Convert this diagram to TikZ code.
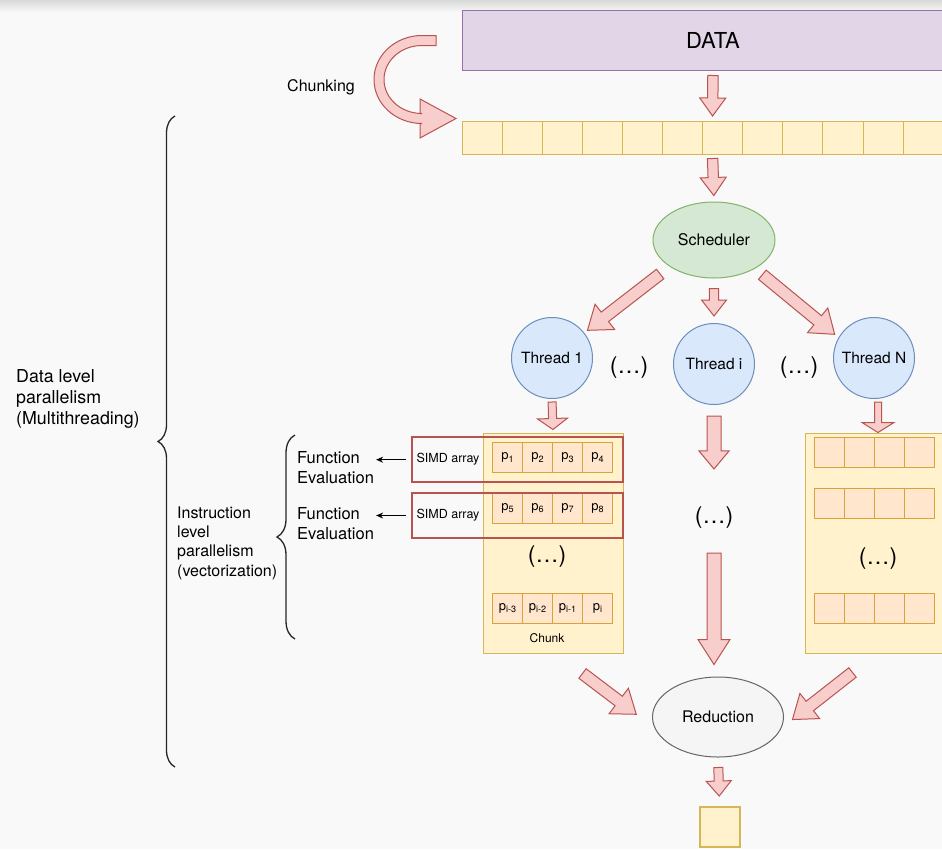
\documentclass[tikz,border=0pt]{standalone}
\usepackage{fontspec}
\setmainfont{TeX Gyre Heros}
\usepackage{tikz}
\usetikzlibrary{arrows.meta,calc,shapes.geometric,decorations.pathreplacing}

\definecolor{bgcol}{HTML}{F9F9F9}
\definecolor{purplefill}{HTML}{E1D5E7}
\definecolor{purpleline}{HTML}{9673A6}
\definecolor{yellowfill}{HTML}{FFF2CC}
\definecolor{yellowline}{HTML}{D6B656}
\definecolor{cellfill}{HTML}{FFE6CC}
\definecolor{cellline}{HTML}{D9A33B}
\definecolor{redfill}{HTML}{F8CECC}
\definecolor{redline}{HTML}{B85450}
\definecolor{greenfill}{HTML}{D5E8D4}
\definecolor{greenline}{HTML}{82B366}
\definecolor{bluefill}{HTML}{DAE8FC}
\definecolor{blueline}{HTML}{6C8EBF}
\definecolor{greyfill}{HTML}{F5F5F5}
\definecolor{greyline}{HTML}{666666}

\begin{document}
\begin{tikzpicture}[
    x=1pt, y=-1pt,
    txt/.style={font=\fontsize{16.5}{19.6}\selectfont, inner sep=0pt, align=left},
    etc/.style={font=\fontsize{23}{23}\selectfont, inner sep=0pt},
    box/.style={draw=yellowline, fill=yellowfill, line width=1pt, inner sep=0pt},
    pcell/.style={draw=cellline, fill=cellfill, line width=1pt, minimum width=30pt,
        minimum height=30pt, inner sep=0pt, font=\fontsize{13}{13}\selectfont},
    thread/.style={circle, draw=blueline, fill=bluefill, line width=1pt, minimum size=81pt,
        inner sep=0pt, font=\fontsize{15.5}{15.5}\selectfont},
    simd/.style={draw=redline, line width=2pt, minimum width=211pt, minimum height=45pt, inner sep=0pt},
    pointer/.style={-{Stealth[length=7pt,width=6pt]}, line width=1pt, shorten <=5pt, shorten >=2pt},
    curly/.style={decorate, decoration={brace, amplitude=#1}, line width=1.3pt, draw=black!85},
    fat size/.code n args={5}{\def\fags{#1}\def\fage{#2}\def\fasw{#3}\def\fahw{#4}\def\fahl{#5}},
    fat size={4pt}{4pt}{5pt}{13pt}{18pt},
    fat/.style={draw=redline, fill=redfill, line width=1pt, line join=miter,
        to path={
            ($(\tikztostart)!\fags!(\tikztotarget)$) coordinate (fa-s)
            ($(\tikztotarget)!\fage!(\tikztostart)$) coordinate (fa-t)
            ($(fa-t)!\fahl!(fa-s)$) coordinate (fa-c)
            ($(fa-s)!\fasw!90:(fa-t)$) -- ($(fa-c)!\fasw!90:(fa-t)$)
            -- ($(fa-c)!\fahw!90:(fa-t)$) -- (fa-t)
            -- ($(fa-c)!\fahw!-90:(fa-t)$) -- ($(fa-c)!\fasw!-90:(fa-t)$)
            -- ($(fa-s)!\fasw!-90:(fa-t)$) -- cycle}},
]
\useasboundingbox (0,0) rectangle (942,849);
\clip (0,0) rectangle (942,849);
\fill[bgcol] (0,0) rectangle (942,849);
\shade[top color=black!15, bottom color=bgcol] (0,0) rectangle (942,12);

% Data and chunked row
\node[draw=purpleline, fill=purplefill, line width=1pt, minimum width=502pt, minimum height=60pt,
    font=\fontsize{22}{22}\selectfont] (data) at (713,40.5) {DATA};
\node[box, minimum width=501pt, minimum height=33pt] (row) at (712.5,137.5) {};
\foreach \i in {1,...,12} {
    \draw[yellowline, line width=1pt] (462+40.1*\i,121) -- (462+40.1*\i,154);
}
\node[font=\fontsize{16}{16}\selectfont] (chunking) at (321,87) {Chunking};
\draw[draw=redline, fill=redfill, line width=1pt, line join=miter]
    (436,35.5) -- (422,35.5) arc[start angle=270, end angle=90, x radius=48, y radius=44]
    -- (420,123.5) -- (420,138) -- (456,118.5) -- (420,99) -- (420,113.5) -- (422,113.5)
    arc[start angle=90, end angle=270, x radius=38, y radius=34] -- (436,45.5) -- cycle;

% Scheduler and threads
\node[ellipse, draw=greenline, fill=greenfill, line width=1pt, minimum width=122pt, minimum height=76pt,
    inner sep=0pt, font=\fontsize{16}{16}\selectfont] (sched) at (714,240) {Scheduler};
\node[thread] (t1) at (552,358) {Thread 1};
\node[thread] (ti) at (714,364) {Thread i};
\node[thread] (tN) at (874,358) {Thread N};
\node[etc] (etc1) at (629,368) {(\dots)};
\node[etc] (etc2) at (799,368) {(\dots)};

% Chunk of thread 1
\node[box, minimum width=140pt, minimum height=220pt] (chunk) at (553,543) {};
\foreach \t [count=\i from 0] in {1,2,3,4} {
    \node[pcell] (pa-\i) at (507.7+30*\i,457.7) {p\textsubscript{\t}};
}
\foreach \t [count=\i from 0] in {5,6,7,8} {
    \node[pcell] (pb-\i) at (507.7+30*\i,508) {p\textsubscript{\t}};
}
\foreach \t [count=\i from 0] in {i-3,i-2,i-1,i} {
    \node[pcell] (pc-\i) at (507.7+30*\i,608.3) {p\textsubscript{\t}};
}
\node[etc] (etc3) at (547,557) {(\dots)};
\node[font=\fontsize{12}{12}\selectfont] (chunk-lbl) at (547,638) {Chunk};
\node[simd] (simd1) at (517.5,459.7) {};
\node[simd] (simd2) at (517.5,515.5) {};
\node[font=\fontsize{12.5}{12.5}\selectfont] (simd1-lbl) at (448,459.5) {SIMD array};
\node[font=\fontsize{12.5}{12.5}\selectfont] (simd2-lbl) at (448,515) {SIMD array};

% Chunk of thread N
\node[box, minimum width=140pt, minimum height=220pt] (rbox) at (875,543) {};
\foreach \y in {452,503,608} {
    \foreach \i in {0,...,3} {
        \node[pcell] at (829+30*\i,\y) {};
    }
}
\node[etc] (etc4) at (878,559) {(\dots)};

% Middle thread
\node[etc] (etc5) at (714,518) {(\dots)};

% Reduction and result
\node[ellipse, draw=greyline, fill=greyfill, line width=1pt, minimum width=131pt, minimum height=80pt,
    inner sep=0pt, font=\fontsize{16}{16}\selectfont] (reduc) at (718,717) {Reduction};
\node[draw=yellowline, fill=yellowfill, line width=2pt, minimum size=40pt, inner sep=0pt] (res) at (719.5,827) {};

% Block arrows
\draw[fat, fat size={4.5pt}{4.5pt}{5.2pt}{13pt}{18pt}] (data.south) to (row.north);
\draw[fat, fat size={4pt}{6pt}{5.2pt}{13pt}{18pt}] (row.south) to (sched.north);
\draw[fat, fat size={12pt}{4pt}{6pt}{16pt}{22pt}] (sched.211) to (t1.38);
\draw[fat, fat size={10pt}{7pt}{4.7pt}{12.5pt}{16pt}] (sched.south) to (ti.north);
\draw[fat, fat size={9.5pt}{5pt}{6pt}{16pt}{22pt}] (sched.325) to (tN.150);
\draw[fat, fat size={3pt}{3pt}{4pt}{15pt}{11pt}] (t1.south) to (chunk.north);
\draw[fat, fat size={3pt}{0pt}{3.5pt}{16pt}{10pt}] ([xshift=4pt]tN.south) to ([xshift=3pt]rbox.north);
\draw[fat, fat size={11pt}{38pt}{7pt}{15pt}{18pt}] (ti.south) to (etc5.north);
\draw[fat, fat size={24pt}{12pt}{7pt}{16pt}{25pt}] (etc5.south) to (etc5.south |- reduc.north);
\draw[fat, fat size={0pt}{23pt}{6pt}{16pt}{22pt}] ([xshift=-41pt,yshift=-20pt]chunk.south east) to (reduc.190);
\draw[fat, fat size={0pt}{14pt}{6pt}{16pt}{22pt}] ([xshift=48pt,yshift=-19pt]rbox.south west) to (reduc.-10);
\draw[fat, fat size={10pt}{10pt}{4.5pt}{12.5pt}{15pt}] (reduc.south) to (res.north);

% Levels of parallelism
\node[txt, anchor=west] (fe1) at (297,467.5) {Function\\Evaluation};
\node[txt, anchor=west] (fe2) at (297,523.7) {Function\\Evaluation};
\draw[pointer] (simd1.west) -- (simd1.west -| fe1.east);
\draw[pointer] (simd2.west) -- (simd2.west -| fe2.east);
\node[txt, anchor=west, font=\fontsize{16}{19.3}\selectfont] (ilp) at (177,543)
    {Instruction\\level\\parallelism\\(vectorization)};
\draw[curly=18pt] (295,639) -- (295,435);
\node[txt, anchor=west, font=\fontsize{17.8}{21}\selectfont] (dlp) at (16,399)
    {Data level\\parallelism\\(Multithreading)};
\draw[curly=17pt] (175,767) -- (175,116);
\end{tikzpicture}
\end{document}
